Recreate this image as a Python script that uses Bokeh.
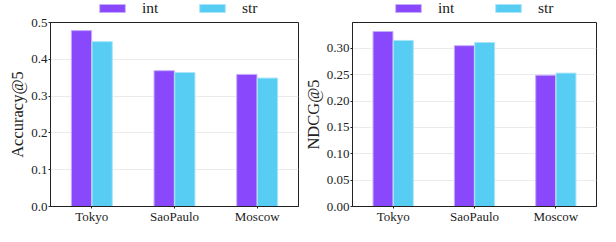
from bokeh.plotting import figure
from bokeh.models import (ColumnDataSource, FactorRange, Range1d, Legend, LegendItem,
                          FixedTicker, PrintfTickFormatter)
from bokeh.transform import dodge
from bokeh.layouts import row, column
from bokeh.embed import file_html
from bokeh.resources import INLINE

cities = ["Tokyo", "SaoPaulo", "Moscow"]
series = ["int", "str"]
acc_int = [0.478, 0.369, 0.359]
acc_str = [0.448, 0.364, 0.349]
ndcg_int = [0.332, 0.305, 0.249]
ndcg_str = [0.315, 0.311, 0.253]
acc_ticks = [0.0, 0.1, 0.2, 0.3, 0.4, 0.5]
ndcg_ticks = [0.0, 0.05, 0.10, 0.15, 0.20, 0.25, 0.30]

FONT = "Liberation Serif"
C_INT = "#8a48fc"
C_STR = "#57cdf3"
L_INT = "#c4adfb"
L_STR = "#a9e5f9"
TXT = "#222222"


def legend_fig(width, bl, br, x0):
    # legend-only strip above each panel; its swatch glyphs sit outside the view
    lf = figure(width=width, height=17, output_backend="svg", toolbar_location=None,
                x_axis_location=None, y_axis_location=None,
                min_border_left=bl, min_border_right=br, min_border_top=0,
                min_border_bottom=0, x_range=Range1d(0, 1), y_range=Range1d(0, 1))
    lf.outline_line_color = None
    lf.xgrid.grid_line_color = None
    lf.ygrid.grid_line_color = None
    hidden = ColumnDataSource(dict(x=[5], y=[5]))
    g1 = lf.rect(x="x", y="y", width=0.1, height=0.1, source=hidden,
                 fill_color=C_INT, line_color=L_INT)
    g2 = lf.rect(x="x", y="y", width=0.1, height=0.1, source=hidden,
                 fill_color=C_STR, line_color=L_STR)
    leg = Legend(items=[LegendItem(label=series[0], renderers=[g1]),
                        LegendItem(label=series[1], renderers=[g2])],
                 orientation="horizontal", location=(x0, 0),
                 border_line_color=None, background_fill_alpha=0,
                 glyph_width=32, glyph_height=10, label_standoff=14,
                 spacing=34, padding=0, margin=0, label_height=10,
                 label_text_font=FONT, label_text_font_size="15.5px",
                 label_text_color=TXT)
    lf.add_layout(leg, "center")
    return lf


def make(vals_int, vals_str, ylabel, yend, ticks, fmt, width, bl, br):
    src = ColumnDataSource(dict(city=cities, a=vals_int, b=vals_str))
    p = figure(x_range=FactorRange(factors=cities), y_range=Range1d(0, yend),
               width=width, height=209, output_backend="svg", toolbar_location=None,
               min_border_left=bl, min_border_right=br, min_border_top=5,
               min_border_bottom=0)
    p.vbar(x=dodge("city", -0.125, range=p.x_range), top="a", width=0.245,
           source=src, fill_color=C_INT, line_color=L_INT, line_width=1)
    p.vbar(x=dodge("city", 0.125, range=p.x_range), top="b", width=0.245,
           source=src, fill_color=C_STR, line_color=L_STR, line_width=1)
    p.outline_line_color = TXT
    p.outline_line_width = 1
    p.xgrid.grid_line_color = None
    p.ygrid.grid_line_color = "#ebebeb"
    p.ygrid.grid_line_width = 1
    p.yaxis.ticker = FixedTicker(ticks=ticks)
    p.yaxis.formatter = PrintfTickFormatter(format=fmt)
    for ax in (p.xaxis[0], p.yaxis[0]):
        ax.axis_line_color = TXT
        ax.major_tick_line_color = TXT
        ax.major_tick_out = 2
        ax.major_tick_in = 0
        ax.minor_tick_out = 0
        ax.minor_tick_in = 0
        ax.major_label_text_font = FONT
        ax.major_label_text_font_size = "13px"
        ax.major_label_text_font_style = "normal"
        ax.major_label_text_color = TXT
        ax.major_label_standoff = 1
    p.yaxis.axis_label = ylabel
    p.yaxis.axis_label_text_font = FONT
    p.yaxis.axis_label_text_font_size = "16.5px"
    p.yaxis.axis_label_text_font_style = "normal"
    p.yaxis.axis_label_text_color = TXT
    p.yaxis.axis_label_standoff = 1
    p.xaxis.major_label_standoff = 0
    return p


p1 = make(acc_int, acc_str, "Accuracy@5", 0.5, acc_ticks, "%.1f", 300, 50, 2)
p2 = make(ndcg_int, ndcg_str, "NDCG@5", 0.349, ndcg_ticks, "%.2f", 300, 48, 4)
l1 = legend_fig(300, 50, 2, 46)
l2 = legend_fig(300, 48, 4, 40)
layout = row(column(l1, p1), column(l2, p2))
open("out.html", "w").write(file_html(layout, INLINE))
